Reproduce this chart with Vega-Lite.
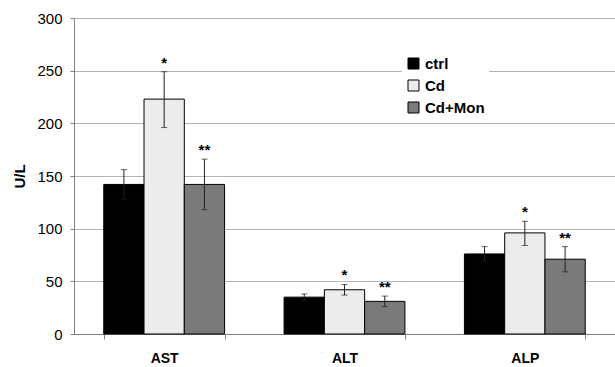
{
  "$schema": "https://vega.github.io/schema/vega-lite/v6.json",
  "width": 541,
  "height": 316,
  "autosize": {"type": "none"},
  "padding": {"left": 74, "top": 18, "right": 0, "bottom": 33},
  "background": "white",
  "config": {
    "font": "Liberation Sans",
    "view": {"stroke": null},
    "axis": {"labelFont": "Liberation Sans", "titleFont": "Liberation Sans"}
  },
  "data": {
    "values": [
      {"group": "AST", "treat": "ctrl", "value": 142, "lo": 128, "hi": 156, "star": ""},
      {"group": "AST", "treat": "Cd", "value": 223, "lo": 196, "hi": 249, "star": "*"},
      {"group": "AST", "treat": "Cd+Mon", "value": 142, "lo": 118, "hi": 166, "star": "**"},
      {"group": "ALT", "treat": "ctrl", "value": 35, "lo": 32, "hi": 38, "star": ""},
      {"group": "ALT", "treat": "Cd", "value": 42, "lo": 37, "hi": 47, "star": "*"},
      {"group": "ALT", "treat": "Cd+Mon", "value": 31, "lo": 26, "hi": 36, "star": "**"},
      {"group": "ALP", "treat": "ctrl", "value": 76, "lo": 69, "hi": 83, "star": ""},
      {"group": "ALP", "treat": "Cd", "value": 96, "lo": 84, "hi": 107, "star": "*"},
      {"group": "ALP", "treat": "Cd+Mon", "value": 71, "lo": 59, "hi": 83, "star": "**"}
    ]
  },
  "encoding": {
    "x": {
      "field": "group", "type": "nominal", "sort": ["AST", "ALT", "ALP"],
      "scale": {"paddingInner": 0.33, "paddingOuter": 0.165},
      "axis": {
        "title": null, "labelAngle": 0, "labelFontSize": 14, "labelFontWeight": "bold",
        "labelColor": "#000", "labelPadding": 12, "tickBand": "extent", "tickSize": 5,
        "domainColor": "#808080", "tickColor": "#808080", "grid": false
      }
    },
    "xOffset": {"field": "treat", "type": "nominal", "sort": ["ctrl", "Cd", "Cd+Mon"], "scale": {"paddingInner": 0, "paddingOuter": 0}}
  },
  "layer": [
    {
      "mark": {"type": "bar", "stroke": "#000", "strokeWidth": 1},
      "encoding": {
        "y": {
          "field": "value", "type": "quantitative",
          "scale": {"domain": [0, 300], "nice": false},
          "axis": {
            "title": "U/L", "titleFontSize": 15, "titleFontWeight": "bold", "titleColor": "#000",
            "titlePadding": 9, "values": [0, 50, 100, 150, 200, 250, 300],
            "labelFontSize": 15, "labelColor": "#000", "labelPadding": 8, "tickSize": 4,
            "domainColor": "#808080", "tickColor": "#808080", "gridColor": "#b4b4b4"
          }
        },
        "fill": {
          "field": "treat", "type": "nominal",
          "scale": {"domain": ["ctrl", "Cd", "Cd+Mon"], "range": ["#000000", "#ececec", "#7a7a7a"]},
          "legend": {
            "title": null, "orient": "none", "legendX": 328, "legendY": 34,
            "fillColor": "white", "padding": 4, "symbolType": "square", "symbolSize": 121,
            "symbolStrokeColor": "#000", "symbolStrokeWidth": 1,
            "labelFontSize": 15, "labelFontWeight": "bold", "labelColor": "#000",
            "rowPadding": 6, "labelOffset": 4
          }
        }
      }
    },
    {
      "mark": {"type": "rule", "color": "#222", "strokeWidth": 1},
      "encoding": {
        "y": {"field": "lo", "type": "quantitative"},
        "y2": {"field": "hi"}
      }
    },
    {
      "mark": {"type": "tick", "color": "#222", "thickness": 1, "size": 6},
      "encoding": {"y": {"field": "hi", "type": "quantitative"}}
    },
    {
      "mark": {"type": "tick", "color": "#222", "thickness": 1, "size": 6},
      "encoding": {"y": {"field": "lo", "type": "quantitative"}}
    },
    {
      "mark": {"type": "text", "fontSize": 15, "fontWeight": "bold", "baseline": "alphabetic", "dy": -4, "color": "#000"},
      "encoding": {
        "y": {"field": "hi", "type": "quantitative"},
        "text": {"field": "star"}
      }
    }
  ]
}
